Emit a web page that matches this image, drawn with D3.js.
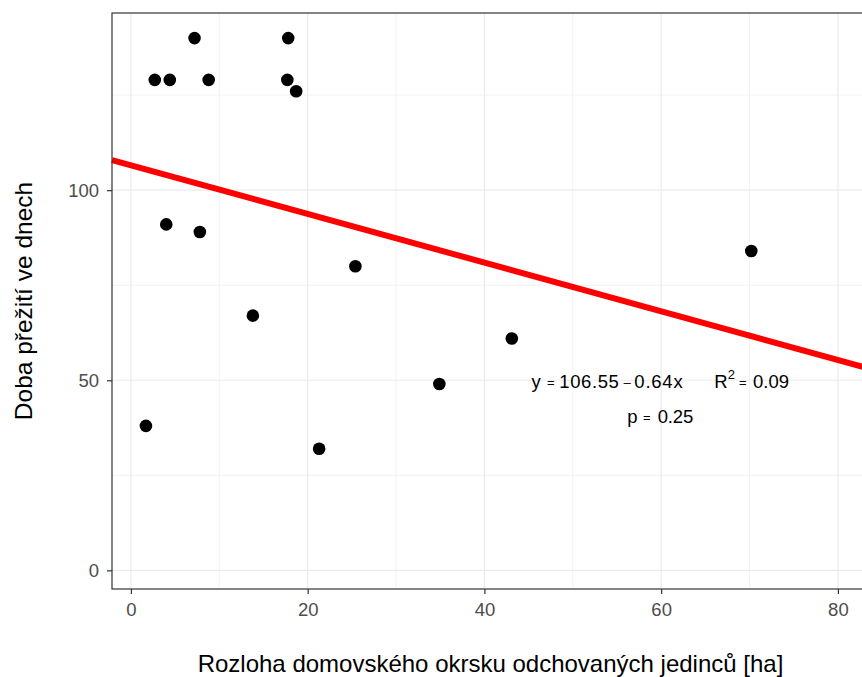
<!DOCTYPE html>
<html>
<head>
<meta charset="utf-8">
<script src="https://cdn.jsdelivr.net/npm/d3@7"></script>
<style>
  body { margin: 0; background: #fff; }
  svg { display: block; font-family: "Liberation Sans", Arial, sans-serif; }
</style>
</head>
<body>
<svg id="chart" width="862" height="677"></svg>
<script>
// survival time vs home range area
const area = [1.7, 2.7, 4.4, 7.2, 8.8, 17.7, 17.8, 18.7, 4.0, 7.8, 13.8, 21.3, 25.4, 34.9, 43.1, 70.2];
const days = [38, 129, 129, 140, 129, 129, 140, 126, 91, 89, 67, 32, 80, 49, 61, 84];

const xTicks = [0, 20, 40, 60, 80];
const xMinor = [10, 30, 50, 70];
const yTicks = [0, 50, 100];
const yMinor = [25, 75, 125];

const intercept = 106.55;
const slope = -0.64;

const svg = d3.select('#chart');
const panel = { left: 112, top: 13, right: 863, bottom: 589 };

const x = d3.scaleLinear().domain([-2.14, 82.84]).range([panel.left, panel.right]);
const y = d3.scaleLinear().domain([-4.9, 146.6]).range([panel.bottom, panel.top]);

const g = svg.append('g');

// grid
g.selectAll('line.xminor').data(xMinor).enter().append('line')
    .attr('x1', d => x(d)).attr('x2', d => x(d))
    .attr('y1', panel.top).attr('y2', panel.bottom)
    .attr('stroke', '#F2F2F2').attr('stroke-width', 1);
g.selectAll('line.yminor').data(yMinor).enter().append('line')
    .attr('y1', d => y(d)).attr('y2', d => y(d))
    .attr('x1', panel.left).attr('x2', panel.right)
    .attr('stroke', '#F2F2F2').attr('stroke-width', 1);
g.selectAll('line.xmajor').data(xTicks).enter().append('line')
    .attr('x1', d => x(d)).attr('x2', d => x(d))
    .attr('y1', panel.top).attr('y2', panel.bottom)
    .attr('stroke', '#EBEBEB').attr('stroke-width', 1.2);
g.selectAll('line.ymajor').data(yTicks).enter().append('line')
    .attr('y1', d => y(d)).attr('y2', d => y(d))
    .attr('x1', panel.left).attr('x2', panel.right)
    .attr('stroke', '#EBEBEB').attr('stroke-width', 1.2);

// regression line
const xd = x.domain();
g.append('line')
    .attr('x1', x(xd[0])).attr('y1', y(intercept + slope * xd[0]))
    .attr('x2', x(xd[1])).attr('y2', y(intercept + slope * xd[1]))
    .attr('stroke', '#FF0000').attr('stroke-width', 6);

// points
g.selectAll('circle').data(area).enter().append('circle')
    .attr('cx', d => x(d))
    .attr('cy', (d, i) => y(days[i]))
    .attr('r', 6.3)
    .attr('fill', '#000');

// panel border
svg.append('rect')
    .attr('x', panel.left).attr('y', panel.top)
    .attr('width', panel.right - panel.left).attr('height', panel.bottom - panel.top)
    .attr('fill', 'none').attr('stroke', '#333333').attr('stroke-width', 1.2);

// axes
const xAxis = svg.append('g')
    .attr('transform', `translate(0,${panel.bottom})`)
    .call(d3.axisBottom(x).tickValues(xTicks).tickSize(5).tickPadding(9));
const yAxis = svg.append('g')
    .attr('transform', `translate(${panel.left},0)`)
    .call(d3.axisLeft(y).tickValues(yTicks).tickSize(5).tickPadding(8));

[xAxis, yAxis].forEach(a => {
    a.select('.domain').remove();
    a.selectAll('line').attr('stroke', '#333333').attr('stroke-width', 1.2);
    a.selectAll('text').attr('fill', '#4D4D4D').style('font-size', '18.5px')
        .style('font-family', '"Liberation Sans", Arial, sans-serif');
});

// axis titles
svg.append('text')
    .attr('x', 490.5).attr('y', 672)
    .attr('text-anchor', 'middle')
    .style('font-size', '24px')
    .text('Rozloha domovského okrsku odchovaných jedinců [ha]');

svg.append('text')
    .attr('transform', `translate(32,${(panel.top + panel.bottom) / 2}) rotate(-90)`)
    .attr('text-anchor', 'middle')
    .style('font-size', '24.5px')
    .text('Doba přežití ve dnech');

// equation annotation, each piece placed like plotmath spacing
function piece(parent, px, txt, size) {
    return parent.append('tspan').attr('x', px).style('font-size', size).text(txt);
}
function op(parent, px, txt) {
    // small operator glyph raised to the math axis
    const t = piece(parent, px, txt, '13px').attr('dy', -1.5);
    return t;
}
const eq = svg.append('text').attr('y', 388.3).style('font-size', '18.5px');
piece(eq, 531.5, 'y', '18.5px');
op(eq, 547, '=');
piece(eq, 559.3, '106.55', '18.5px').attr('textLength', 59.5).attr('dy', 1.5);
op(eq, 623.5, '–');
piece(eq, 634.3, '0.64x', '18.5px').attr('textLength', 48.4).attr('dy', 1.5);

const r2 = svg.append('text').attr('y', 388.3).style('font-size', '18.5px');
piece(r2, 714.3, 'R', '18.5px');
r2.append('tspan').attr('dy', -9).style('font-size', '13px').text('2');
piece(r2, 739, '=', '13px').attr('dy', 7.5);
piece(r2, 753, '0.09', '18.5px').attr('textLength', 36).attr('dy', 1.5);

const pv = svg.append('text').attr('y', 423.3).style('font-size', '18.5px');
piece(pv, 627.3, 'p', '18.5px');
op(pv, 643, '=');
piece(pv, 657.7, '0.25', '18.5px').attr('textLength', 35.6).attr('dy', 1.5);
</script>
</body>
</html>
